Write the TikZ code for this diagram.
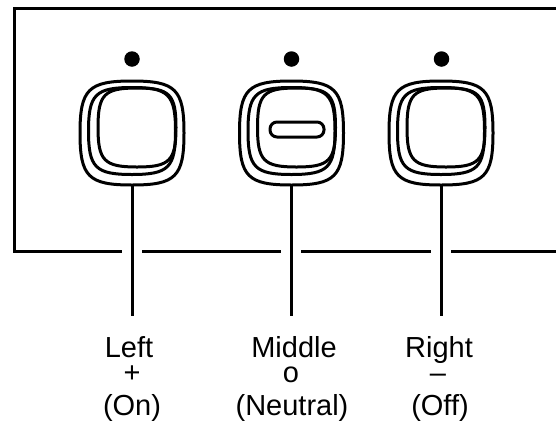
\documentclass[tikz,border=0pt]{standalone}
\usepackage{fontspec}
\setmainfont{Liberation Sans}
\newcommand{\sqpath}[4]{% cx cy a b
  \pgfmathsetmacro{\ka}{#3*0.84}\pgfmathsetmacro{\kb}{#4*0.84}
  \draw[ink] (#1,#2-#4) .. controls (#1+\ka,#2-#4) and (#1+#3,#2-\kb) .. (#1+#3,#2)
    .. controls (#1+#3,#2+\kb) and (#1+\ka,#2+#4) .. (#1,#2+#4)
    .. controls (#1-\ka,#2+#4) and (#1-#3,#2+\kb) .. (#1-#3,#2)
    .. controls (#1-#3,#2-\kb) and (#1-\ka,#2-#4) .. cycle;}
\tikzset{
  ink/.style={line width=3pt,black},
  lbl/.style={anchor=base,inner sep=0pt,font=\fontsize{29}{30}\selectfont},
  led/.style={circle,fill=black,inner sep=0pt,minimum size=15.5pt},
  switchface/.pic={
    \sqpath{0}{0}{52}{52}
    \sqpath{0}{-2}{43.5}{43.5}
    \sqpath{5}{-5.5}{39}{39.5}
    \coordinate (-bottom) at (0,52);
  },
  slotmark/.style={ink,rounded corners=7pt}
}
\begin{document}
\begin{tikzpicture}[x=1pt,y=-1pt]
\useasboundingbox (0,0) rectangle (556,421);
% panel outline
\coordinate (fa) at (556,8);
\coordinate (fb) at (14,8);
\coordinate (fc) at (14,251);
\coordinate (g1a) at (122,251);
\coordinate (g1b) at (142,251);
\coordinate (g2a) at (281,251);
\coordinate (g2b) at (301,251);
\coordinate (g3a) at (431,251);
\coordinate (g3b) at (451,251);
\coordinate (fd) at (556,251);
\draw[ink] (fa) -- (fb) -- (fc) -- (g1a);
\draw[ink] (g1b) -- (g2a);
\draw[ink] (g2b) -- (g3a);
\draw[ink] (g3b) -- (fd);
% lamps
\node[led] (ledl) at (132,59) {};
\node[led] (ledm) at (291.5,59) {};
\node[led] (ledr) at (441.5,59) {};
% switches
\pic (bl) at (132,133) {switchface};
\pic (bm) at (291.5,133) {switchface};
\pic (br) at (441,133) {switchface};
\draw[slotmark] (270,122) rectangle (324,137);
% leaders
\coordinate (el) at (132,316);
\coordinate (em) at (291.5,316);
\coordinate (er) at (441,316);
\draw[ink] (bl-bottom) -- (el);
\draw[ink] (bm-bottom) -- (em);
\draw[ink] (br-bottom) -- (er);
% labels
\node[lbl] (t1) at (129,357) {Left};
\node[lbl] (t2) at (132,382) {+};
\node[lbl] (t3) at (132,415) {(On)};
\node[lbl] (t4) at (294,357) {Middle};
\node[lbl] (t5) at (291,382) {o};
\node[lbl] (t6) at (292,415) {(Neutral)};
\node[lbl] (t7) at (439,357) {Right};
\node[lbl] (t8) at (438,382) {–};
\node[lbl] (t9) at (440,415) {(Off)};
\end{tikzpicture}
\end{document}
